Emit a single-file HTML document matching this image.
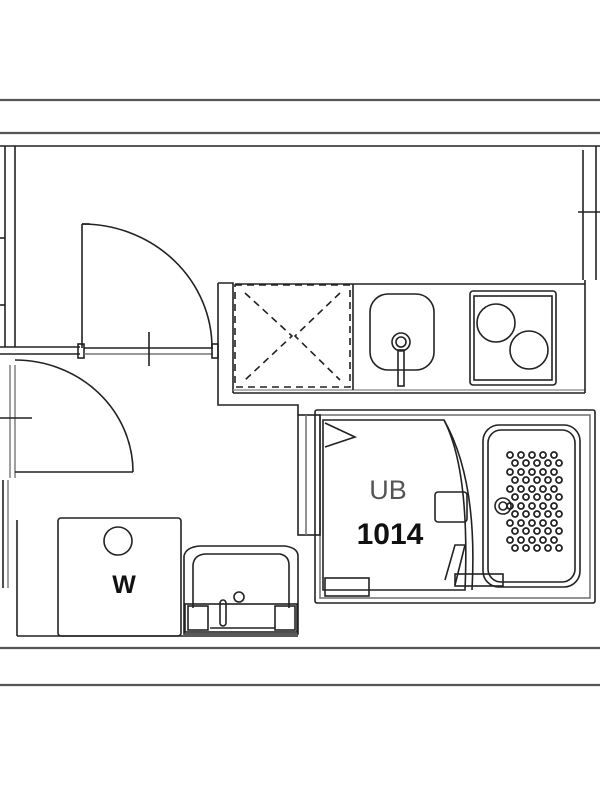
<!DOCTYPE html>
<html><head><meta charset="utf-8"><style>html,body{margin:0;padding:0;background:#fff}svg{display:block}</style></head>
<body>
<svg width="600" height="800" viewBox="0 0 600 800" xmlns="http://www.w3.org/2000/svg" fill="none" stroke="#222" stroke-width="1.6" font-family="Liberation Sans, sans-serif">
<rect width="600" height="800" fill="#fff" stroke="none"/>
<line x1="0" y1="100" x2="600" y2="100" stroke="#555" stroke-width="2.2"/>
<line x1="0" y1="133" x2="600" y2="133" stroke="#555" stroke-width="2.2"/>
<line x1="0" y1="146" x2="600" y2="146"/>
<line x1="0" y1="648" x2="600" y2="648" stroke="#555" stroke-width="2.2"/>
<line x1="0" y1="685" x2="600" y2="685" stroke="#555" stroke-width="2.2"/>
<line x1="5" y1="146" x2="5" y2="347"/><line x1="15" y1="146" x2="15" y2="347"/>
<line x1="0" y1="238" x2="5" y2="238"/><line x1="0" y1="305" x2="5" y2="305"/>
<line x1="3" y1="480" x2="3" y2="588"/><line x1="8" y1="480" x2="8" y2="588" stroke="#888"/>
<line x1="10" y1="365" x2="10" y2="478" stroke="#888"/><line x1="15" y1="365" x2="15" y2="478" stroke="#888"/>
<line x1="0" y1="418" x2="32" y2="418"/>
<line x1="17" y1="520" x2="17" y2="636"/>
<line x1="17" y1="636" x2="298" y2="636"/>
<line x1="0" y1="347" x2="80" y2="347"/><line x1="0" y1="354" x2="80" y2="354"/>
<rect x="78" y="344" width="6" height="14"/>
<line x1="84" y1="348" x2="213" y2="348"/><line x1="84" y1="354" x2="213" y2="354" stroke="#777"/>
<line x1="149" y1="332" x2="149" y2="366"/>
<rect x="212" y="344" width="6" height="14"/>
<line x1="82" y1="224" x2="82" y2="348"/><line x1="82" y1="224" x2="90" y2="224"/>
<path d="M82 224 A130 124 0 0 1 212 348"/>
<path d="M15 360 A118 112 0 0 1 133 472"/>
<line x1="15" y1="472" x2="133" y2="472"/>
<path d="M218 283 L233 283 L233 302"/>
<path d="M218 283 L218 405 L298 405 L298 415"/>
<line x1="233" y1="302" x2="233" y2="393"/>
<rect x="235" y="285" width="115" height="102" stroke-dasharray="7,5"/>
<path d="M245 293 L292 336 L245 380 M340 293 L295 336 L340 380" stroke-dasharray="7,5"/>
<line x1="235" y1="284" x2="585" y2="284"/>
<line x1="233" y1="393" x2="585" y2="393"/><line x1="233" y1="390" x2="585" y2="390" stroke="#999"/>
<line x1="353" y1="284" x2="353" y2="390"/>
<rect x="370" y="294" width="64" height="76" rx="18"/>
<circle cx="401" cy="342" r="9"/><circle cx="401" cy="342" r="5"/>
<rect x="398" y="350" width="6" height="36"/>
<rect x="470" y="291" width="86" height="94" rx="3"/>
<rect x="474" y="296" width="78" height="84"/>
<circle cx="496" cy="323" r="19"/><circle cx="529" cy="350" r="19"/>
<line x1="583" y1="150" x2="583" y2="280"/><line x1="596" y1="146" x2="596" y2="280"/>
<line x1="578" y1="212" x2="600" y2="212"/>
<line x1="585" y1="280" x2="585" y2="393"/>
<rect x="315" y="410" width="280" height="193" rx="2"/>
<rect x="320" y="415" width="270" height="183" stroke="#777"/>
<path d="M323 420 L444 420 Q470 470 465 590 L323 590 Z"/>
<path d="M444 420 Q478 480 472 590"/>
<rect x="298" y="415" width="22" height="120"/>
<line x1="306" y1="415" x2="306" y2="535" stroke="#777"/>
<path d="M325 423 L355 437 L325 447"/>
<rect x="325" y="578" width="44" height="18"/>
<rect x="435" y="492" width="32" height="30" rx="3"/>
<path d="M445 580 L455 545 L465 545 L455 585"/>
<rect x="455" y="574" width="48" height="12"/>
<rect x="483" y="425" width="97" height="162" rx="16"/>
<rect x="488" y="430" width="87" height="152" rx="13"/>
<circle cx="503" cy="506" r="8"/><circle cx="503" cy="506" r="4"/>
<g stroke-width="1.8" fill="none">
<g id="dr">
<circle cx="510" cy="455" r="3"/><circle cx="521" cy="455" r="3"/><circle cx="532" cy="455" r="3"/><circle cx="543" cy="455" r="3"/><circle cx="554" cy="455" r="3"/>
<circle cx="515" cy="463" r="3"/><circle cx="526" cy="463" r="3"/><circle cx="537" cy="463" r="3"/><circle cx="548" cy="463" r="3"/><circle cx="559" cy="463" r="3"/>
</g>
<use href="#dr" y="17"/><use href="#dr" y="34"/><use href="#dr" y="51"/><use href="#dr" y="68"/><use href="#dr" y="85"/>
</g>
<text x="388" y="499" font-size="27" fill="#555" stroke="none" text-anchor="middle">UB</text>
<text x="390" y="544" font-size="30" font-weight="bold" fill="#111" stroke="none" text-anchor="middle">1014</text>
<rect x="58" y="518" width="123" height="118" rx="3"/>
<circle cx="118" cy="541" r="14"/>
<text x="124" y="593" font-size="25" font-weight="bold" fill="#111" stroke="none" text-anchor="middle">W</text>
<path d="M184 634 L184 556 Q186 547 200 546 L285 546 Q298 548 298 556 L298 634 Z"/>
<path d="M193 608 L193 565 Q194 555 205 554 L280 554 Q289 556 289 565 L289 608"/>
<rect x="185" y="604" width="112" height="28"/>
<rect x="188" y="606" width="20" height="24"/><rect x="275" y="606" width="20" height="24"/>
<circle cx="239" cy="597" r="5"/>
<rect x="220" y="600" width="6" height="26" rx="3"/>
<line x1="210" y1="628" x2="275" y2="628"/>
</svg>
</body></html>
